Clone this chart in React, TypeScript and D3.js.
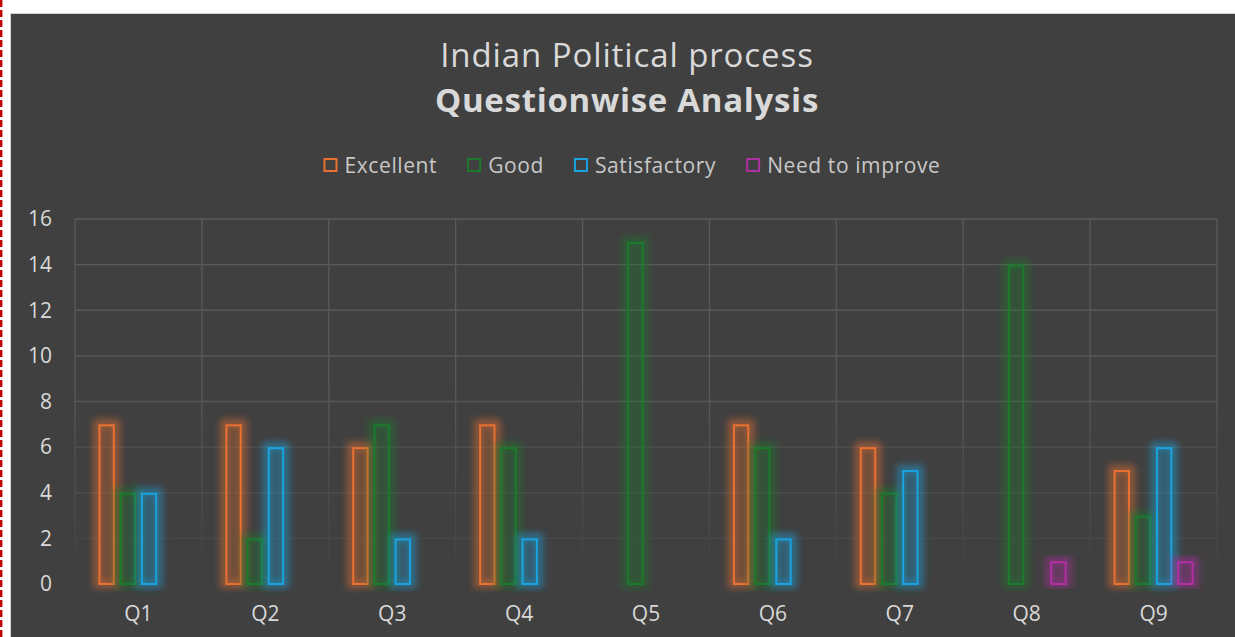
import React, { useEffect, useRef } from "react";
import * as d3 from "d3";

const categories = ["Q1", "Q2", "Q3", "Q4", "Q5", "Q6", "Q7", "Q8", "Q9"];
const seriesNames = ["Excellent", "Good", "Satisfactory", "Need to improve"];
const seriesColors = ["#E97132", "#1C7A2C", "#1AA3E0", "#B02FA3"];
const excellent = [7, 7, 6, 7, 0, 7, 6, 0, 5];
const good = [4, 2, 7, 6, 15, 6, 4, 14, 3];
const satisfactory = [4, 6, 2, 2, 0, 2, 5, 0, 6];
const needToImprove = [0, 0, 0, 0, 0, 0, 0, 1, 1];
const yTicks = [0, 2, 4, 6, 8, 10, 12, 14, 16];

const W = 1235;
const H = 637;
const FONT = "'Open Sans', sans-serif";

const App: React.FC = () => {
  const svgRef = useRef<SVGSVGElement>(null);

  useEffect(() => {
    const svg = d3.select(svgRef.current);
    svg.selectAll("*").remove();

    const values = [excellent, good, satisfactory, needToImprove];
    const margin = { left: 75, right: 1217, top: 219, bottom: 584 };

    const defs = svg.append("defs");
    defs
      .append("filter")
      .attr("id", "glow")
      .attr("x", "-100%")
      .attr("y", "-20%")
      .attr("width", "300%")
      .attr("height", "140%")
      .append("feGaussianBlur")
      .attr("stdDeviation", 3.5);

    const grad = defs
      .append("linearGradient")
      .attr("id", "fade")
      .attr("gradientUnits", "userSpaceOnUse")
      .attr("x1", 0)
      .attr("x2", 0)
      .attr("y1", margin.top)
      .attr("y2", margin.bottom);
    grad.append("stop").attr("offset", "0.45").attr("stop-color", "#fff");
    grad.append("stop").attr("offset", "1").attr("stop-color", "#fff").attr("stop-opacity", 0.03);
    defs
      .append("mask")
      .attr("id", "gridMask")
      .attr("maskUnits", "userSpaceOnUse")
      .attr("x", 0)
      .attr("y", 0)
      .attr("width", W)
      .attr("height", H)
      .append("rect")
      .attr("x", 0)
      .attr("y", 0)
      .attr("width", W)
      .attr("height", H)
      .attr("fill", "url(#fade)");

    // page + panel
    svg.append("rect").attr("width", W).attr("height", H).attr("fill", "#ffffff");
    svg
      .append("line")
      .attr("x1", 1.2)
      .attr("x2", 1.2)
      .attr("y1", 0)
      .attr("y2", H)
      .attr("stroke", "#c00000")
      .attr("stroke-width", 2.4)
      .attr("stroke-dasharray", "7,3");
    svg
      .append("rect")
      .attr("x", 10.5)
      .attr("y", 13.5)
      .attr("width", W)
      .attr("height", H)
      .attr("fill", "#404040")
      .attr("stroke", "#d4d4d4")
      .attr("stroke-width", 1);

    const x0 = d3.scaleBand().domain(categories).range([margin.left, margin.right]);
    const y = d3.scaleLinear().domain([0, 16]).range([margin.bottom, margin.top]);
    const groupW = 80;
    const x1 = d3
      .scaleBand()
      .domain(seriesNames)
      .range([(x0.bandwidth() - groupW) / 2, (x0.bandwidth() + groupW) / 2])
      .paddingInner(0.226);

    // grid
    const grid = svg.append("g").attr("mask", "url(#gridMask)");
    yTicks
      .filter((t) => t > 0)
      .forEach((t) => {
        grid
          .append("line")
          .attr("x1", margin.left)
          .attr("x2", margin.right)
          .attr("y1", y(t))
          .attr("y2", y(t))
          .attr("stroke", "#5a5a5a")
          .attr("stroke-width", 1.3);
      });
    [...categories.map((c) => x0(c) as number), margin.right].forEach((xv) => {
      grid
        .append("line")
        .attr("x1", xv)
        .attr("x2", xv)
        .attr("y1", margin.top)
        .attr("y2", margin.bottom)
        .attr("stroke", "#5a5a5a")
        .attr("stroke-width", 1.3);
    });

    // y labels
    svg
      .append("g")
      .selectAll("text")
      .data(yTicks)
      .enter()
      .append("text")
      .attr("x", 52)
      .attr("y", (d) => y(d))
      .attr("dy", "0.35em")
      .attr("text-anchor", "end")
      .attr("font-family", FONT)
      .attr("font-size", 21)
      .attr("fill", "#d9d9d9")
      .text((d) => d);

    // x labels
    svg
      .append("g")
      .selectAll("text")
      .data(categories)
      .enter()
      .append("text")
      .attr("x", (d) => (x0(d) as number) + x0.bandwidth() / 2)
      .attr("y", 614)
      .attr("dy", "0.35em")
      .attr("text-anchor", "middle")
      .attr("font-family", FONT)
      .attr("font-size", 21)
      .attr("fill", "#d9d9d9")
      .text((d) => d);

    // bars
    seriesNames.forEach((s, si) => {
      const color = seriesColors[si];
      const data = categories
        .map((c, i) => ({ c, v: values[si][i] }))
        .filter((d) => d.v > 0);
      const g = svg.append("g");
      g.selectAll(".glow")
        .data(data)
        .enter()
        .append("rect")
        .attr("x", (d) => (x0(d.c) as number) + (x1(s) as number) - 1)
        .attr("y", (d) => y(d.v) - 1)
        .attr("width", x1.bandwidth() + 2)
        .attr("height", (d) => y(0) - y(d.v) + 1)
        .attr("fill", color)
        .attr("fill-opacity", 0.25)
        .attr("stroke", color)
        .attr("stroke-width", 8)
        .attr("opacity", 0.5)
        .attr("filter", "url(#glow)");
      g.selectAll(".bar")
        .data(data)
        .enter()
        .append("rect")
        .attr("x", (d) => (x0(d.c) as number) + (x1(s) as number) + 1)
        .attr("y", (d) => y(d.v) + 1)
        .attr("width", x1.bandwidth() - 2)
        .attr("height", (d) => y(0) - y(d.v) - 1)
        .attr("fill", color)
        .attr("fill-opacity", 0.15)
        .attr("stroke", color)
        .attr("stroke-width", 2);
    });

    // titles
    svg
      .append("text")
      .attr("x", 627)
      .attr("y", 67)
      .attr("text-anchor", "middle")
      .attr("font-family", FONT)
      .attr("font-size", 33)
      .attr("letter-spacing", 0.9)
      .attr("fill", "#d9d9d9")
      .text("Indian Political process");
    svg
      .append("text")
      .attr("x", 627)
      .attr("y", 112)
      .attr("text-anchor", "middle")
      .attr("font-family", FONT)
      .attr("font-weight", "bold")
      .attr("font-size", 33)
      .attr("letter-spacing", 0.7)
      .attr("fill", "#d9d9d9")
      .text("Questionwise Analysis");

    // legend
    const legend = svg.append("g");
    const items = seriesNames.map((s, i) => {
      const it = legend.append("g");
      it.append("rect")
        .attr("x", 1)
        .attr("y", -7)
        .attr("width", 12)
        .attr("height", 12)
        .attr("fill", "none")
        .attr("stroke", seriesColors[i])
        .attr("stroke-width", 2);
      const t = it
        .append("text")
        .attr("x", 21)
        .attr("y", 0)
        .attr("dy", "0.35em")
        .attr("font-family", FONT)
        .attr("font-size", 21)
        .attr("letter-spacing", 0.6)
        .attr("fill", "#c8c8c8")
        .text(s);
      const w = 21 + ((t.node() as SVGTextElement).getComputedTextLength() || 0);
      return { it, w };
    });
    const gap = 30;
    const total = items.reduce((a, d) => a + d.w, 0) + gap * (items.length - 1);
    let cx = 632 - total / 2;
    items.forEach((d) => {
      d.it.attr("transform", `translate(${cx},166)`);
      cx += d.w + gap;
    });
  }, []);

  return (
    <div style={{ position: "absolute", left: 0, top: 0, width: W, height: H }}>
      <svg ref={svgRef} width={W} height={H} style={{ display: "block" }} />
    </div>
  );
};

export default App;
